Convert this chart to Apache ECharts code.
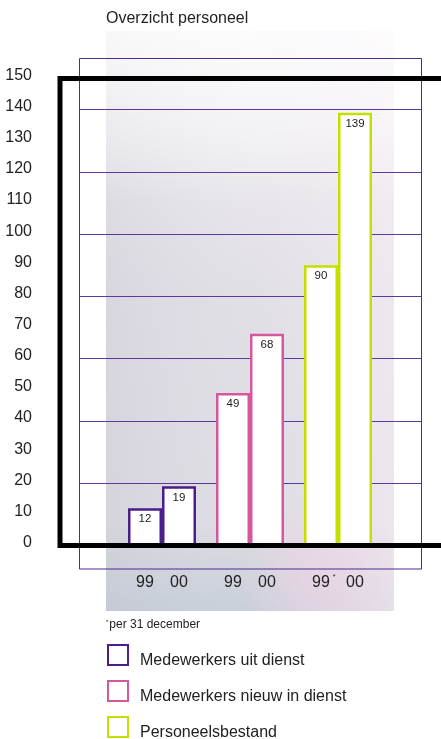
<!DOCTYPE html>
<html>
<head>
<meta charset="utf-8">
<style>
  html, body { margin: 0; padding: 0; background: #ffffff; }
  #chart { width: 441px; height: 739px; }
</style>
<script src="https://cdn.jsdelivr.net/npm/echarts@6/dist/echarts.min.js"></script>
</head>
<body>
<div id="chart"></div>
<script>
// Staff overview: departures, new hires and headcount for '99 and '00
const groups = ['Medewerkers uit dienst', 'Medewerkers nieuw in dienst', 'Personeelsbestand'];
const years = ['99', '00'];
const values99 = [12, 49, 90];
const values00 = [19, 68, 139];
const groupColors = ['#4b1e8c', '#d6589c', '#c5e000'];
const footnoteGroup = 2;           // '99 of headcount is "per 31 december"
const footnoteText = 'per 31 december';

const FONT = '"Liberation Sans", Arial, Helvetica, sans-serif';
const yearValues = [values99, values00];

const chart = echarts.init(document.getElementById('chart'), null, { renderer: 'canvas' });

// one bar series per group and year; same-year series share a stack so each
// category holds exactly two adjacent bars
const series = [];
groups.forEach((name, g) => {
  years.forEach((yr, y) => {
    series.push({
      name: name,
      type: 'bar',
      xAxisIndex: 2,
      yAxisIndex: 2,
      stack: 'year' + yr,
      barWidth: 34,
      barGap: '0%',
      z: 3,
      itemStyle: { color: '#ffffff', borderColor: groupColors[g], borderWidth: 2.5 },
      label: {
        show: true, position: 'insideTop', distance: 5,
        fontSize: 11.5, fontFamily: FONT, color: '#222'
      },
      emphasis: { disabled: true },
      data: groups.map((_, i) => (i === g ? yearValues[y][i] : '-'))
    });
  });
});

const hiddenValueAxis = (grid) => ({ type: 'value', gridIndex: grid, show: false });
const tick = { fontSize: 16, lineHeight: 18, color: '#222', fontFamily: FONT };
const freeGrid = { outerBoundsMode: 'none', containLabel: false };

// one stacked legend block per group
const legends = groups.map((name, g) => ({
  data: [name],
  orient: 'vertical',
  left: 107, top: 644 + g * 36, padding: 0,
  itemWidth: 20, itemHeight: 20,
  icon: 'rect',
  selectedMode: false,
  formatter: (n) => '{t|' + n + '}',
  textStyle: {
    rich: { t: { fontSize: 16, color: '#222', fontFamily: FONT, padding: [12, 0, 0, 7] } }
  }
}));

chart.setOption({
  animation: false,
  title: {
    text: 'Overzicht personeel',
    left: 101, top: 6,
    textStyle: { fontSize: 16, fontWeight: 'normal', color: '#222', fontFamily: FONT }
  },
  grid: [
    // heavy black frame carrying the value labels (runs off the right edge)
    Object.assign({ left: 60, top: 78.5, width: 440, height: 467, show: true, z: 10,
      borderColor: '#000', borderWidth: 5, backgroundColor: 'transparent' }, freeGrid),
    // thin horizontal rules
    Object.assign({ left: 80, width: 341, top: 78.5, height: 467 }, freeGrid),
    // bar area
    Object.assign({ left: 118, width: 264, top: 78.5, height: 467 }, freeGrid),
    // thin purple box
    Object.assign({ left: 79.5, top: 58.5, width: 342, height: 510.5, show: true,
      borderColor: '#4d2a8f', borderWidth: 1, backgroundColor: 'transparent' }, freeGrid)
  ],
  xAxis: [
    hiddenValueAxis(0),
    hiddenValueAxis(1),
    {
      type: 'category', gridIndex: 2, data: groups,
      axisLine: { show: false }, axisTick: { show: false },
      axisLabel: {
        interval: 0,
        margin: 28,
        formatter: (v, i) => i === footnoteGroup
          ? '{p|}{n|' + years[0] + '}{s|*}{r|' + years[1] + '}'
          : '{l|' + years[0] + '}{r|' + years[1] + '}',
        rich: {
          l: Object.assign({ width: 34, align: 'center' }, tick),
          r: Object.assign({ width: 34, align: 'center' }, tick),
          p: { width: 8, fontSize: 16, lineHeight: 18 },
          n: Object.assign({ width: 18, align: 'left' }, tick),
          s: { width: 8, align: 'left', fontSize: 7, lineHeight: 6, verticalAlign: 'top',
               padding: [0, 0, 0, 0], color: '#222', fontFamily: FONT }
        }
      }
    },
    hiddenValueAxis(3)
  ],
  yAxis: [
    {
      type: 'value', gridIndex: 0, min: 0, max: 150, interval: 10,
      axisLine: { show: false }, axisTick: { show: false }, splitLine: { show: false },
      axisLabel: { margin: 28, fontSize: 16, color: '#222', fontFamily: FONT,
        verticalAlign: 'bottom', lineHeight: 6 }
    },
    {
      type: 'value', gridIndex: 1, min: 0, max: 150, interval: 20,
      axisLine: { show: false }, axisTick: { show: false }, axisLabel: { show: false },
      splitLine: { show: true, lineStyle: { color: '#5a3a9c', width: 1 } }
    },
    { type: 'value', gridIndex: 2, min: 0, max: 150, show: false },
    hiddenValueAxis(3)
  ],
  legend: legends,
  graphic: [
    // soft photographic backdrop behind the plot
    { type: 'rect', z: -10, silent: true,
      shape: { x: 106, y: 31, width: 288, height: 580 },
      style: { fill: new echarts.graphic.LinearGradient(0, 0, 0, 1, [
        { offset: 0, color: '#f4f4f6' },
        { offset: 0.2, color: '#ebeaee' },
        { offset: 0.45, color: '#e0dee5' },
        { offset: 0.85, color: '#dcdbe2' },
        { offset: 1, color: '#c2ccd6' }
      ]) } },
    { type: 'rect', z: -9, silent: true,
      shape: { x: 106, y: 31, width: 288, height: 580 },
      style: { fill: new echarts.graphic.LinearGradient(0, 0, 1, 0, [
        { offset: 0, color: 'rgba(200,200,210,0.35)' },
        { offset: 0.5, color: 'rgba(232,228,236,0.15)' },
        { offset: 1, color: 'rgba(250,238,246,0.6)' }
      ]) } },
    { type: 'rect', z: -8, silent: true,
      shape: { x: 106, y: 31, width: 288, height: 580 },
      style: { fill: new echarts.graphic.LinearGradient(0, 0, 0, 1, [
        { offset: 0, color: 'rgba(255,255,255,0.75)' },
        { offset: 0.18, color: 'rgba(255,255,255,0.35)' },
        { offset: 0.3, color: 'rgba(255,255,255,0)' }
      ]) } },
    { type: 'rect', z: -7, silent: true,
      shape: { x: 106, y: 31, width: 288, height: 580 },
      style: { fill: new echarts.graphic.RadialGradient(0.75, 0.95, 0.3, [
        { offset: 0, color: 'rgba(246,206,228,0.5)' },
        { offset: 1, color: 'rgba(246,206,228,0)' }
      ]) } },
    // footnote
    { type: 'text', left: 106, top: 619,
      style: { text: '{a|*}{b|' + footnoteText + '}',
        rich: {
          a: { fontSize: 6, verticalAlign: 'top', fill: '#222', fontFamily: FONT, padding: [0, 1, 6, 0] },
          b: { fontSize: 12, fill: '#222', fontFamily: FONT }
        } } }
  ],
  series: series
});
</script>
</body>
</html>
